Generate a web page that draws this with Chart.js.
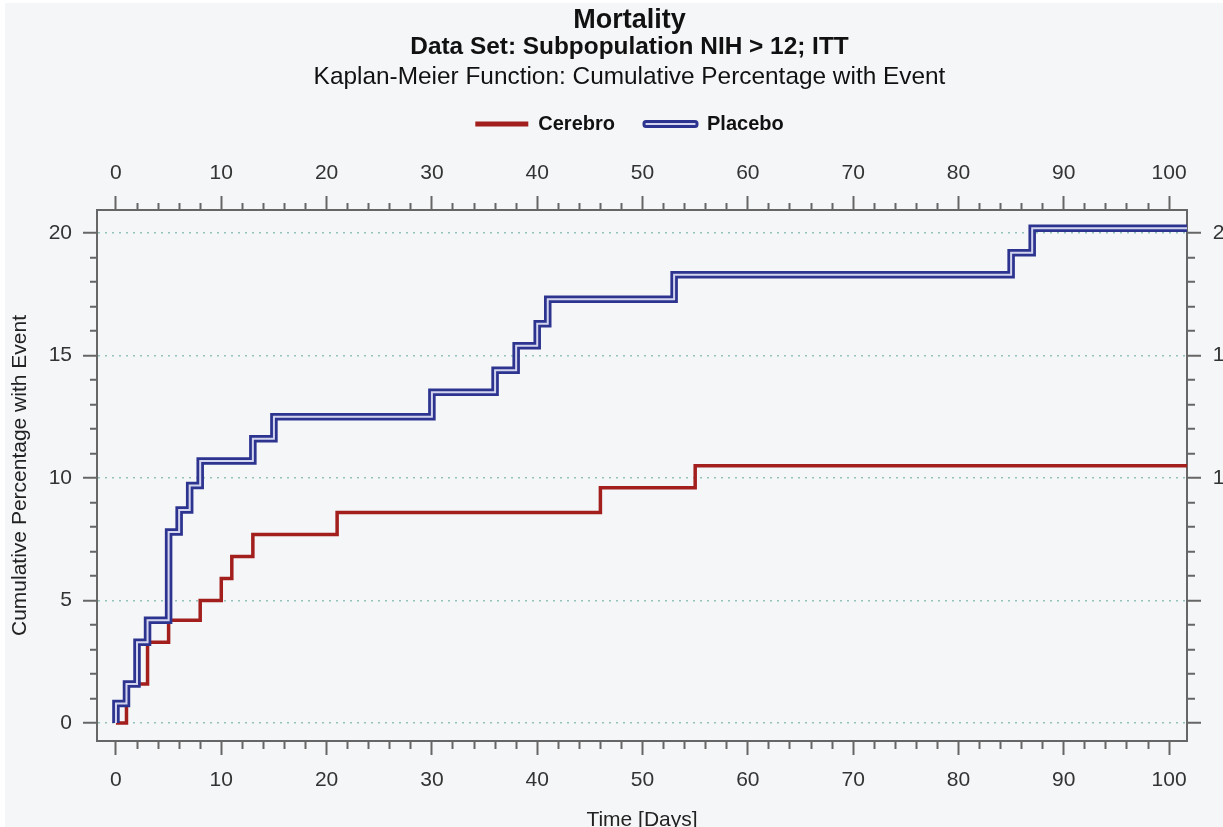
<!DOCTYPE html>
<html>
<head>
<meta charset="utf-8">
<title>Mortality</title>
<script src="https://cdn.jsdelivr.net/npm/chart.js@4/dist/chart.umd.min.js"></script>
<style>
  html, body { margin: 0; padding: 0; width: 1223px; height: 827px; overflow: hidden; background: #ffffff; }
  #wrap { position: absolute; left: 5px; top: 3px; width: 1240px; height: 840px; background: #f5f6f8; }
</style>
</head>
<body>
<div id="wrap"><canvas id="kmChart"></canvas></div>
<script>
// ================= DATA =================

// Kaplan-Meier steps: day of the event and cumulative % after it
const cerebroDays = [0, 1, 3, 5, 8, 10, 11, 13, 21, 46, 55, 102];
const cerebroPct  = [0, 1.6, 3.3, 4.2, 5.0, 5.9, 6.8, 7.7, 8.6, 9.6, 10.5, 10.5];

const placeboDays = [0, 0, 1, 2, 3, 5, 6, 7, 8, 13, 15, 30, 36, 38, 40, 41, 53, 85, 87, 102];
const placeboPct  = [0, 0.8, 1.6, 3.3, 4.2, 7.8, 8.7, 9.7, 10.7, 11.6, 12.5, 13.5, 14.4, 15.4, 16.3, 17.3, 18.3, 19.2, 20.2, 20.2];

const seriesNames = ["Cerebro", "Placebo"];

const titleText    = "Mortality";
const subtitleText = "Data Set: Subpopulation NIH > 12; ITT";
const methodText   = "Kaplan-Meier Function: Cumulative Percentage with Event";
const xTitle = "Time [Days]";
const yTitle = "Cumulative Percentage with Event";

const xRange = [-1.8, 101.7];
const yRange = [-0.73, 20.94];

// ================= STYLE =================

const FONT = "'Liberation Sans', Arial, Helvetica, sans-serif";
const RED = "#a21f1d";
const NAVY = "#2d3490";
const NAVY_LIGHT = "#d3d5ef";
const AXIS = "#666666";
const GRID = "#93c2bb";

const PLOT_TOP = 207;
const PLOT_BOTTOM = 738;
const CANVAS_H = 840;

Chart.defaults.font.family = FONT;

function toPoints(days, pct) {
  return days.map((d, i) => ({ x: d, y: pct[i] }));
}

// major tick every 10 (x) or 5 (y), minor ones are drawn shorter with a dash
function majorLabel(step) {
  return v => (v % step === 0 ? v : "");
}

function tickDash(step, fromOuter) {
  return ctx => {
    if (ctx.tick && ctx.tick.value % step === 0) return [];
    return fromOuter ? [0, 7, 7, 100] : [7, 100];
  };
}

function xAxis(position, pad, fromOuter) {
  return {
    type: "linear",
    position: position,
    min: xRange[0],
    max: xRange[1],
    ticks: {
      stepSize: 2,
      autoSkip: false,
      includeBounds: false,
      maxRotation: 0,
      padding: pad,
      color: "#333",
      font: { size: 21, lineHeight: 1 },
      callback: majorLabel(10)
    },
    grid: {
      drawOnChartArea: false,
      tickLength: 14,
      tickWidth: 2,
      tickColor: AXIS,
      tickBorderDash: tickDash(10, fromOuter)
    },
    border: { color: AXIS, width: 2 }
  };
}

function yAxis(position, fromOuter) {
  return {
    type: "linear",
    position: position,
    min: yRange[0],
    max: yRange[1],
    ticks: {
      stepSize: 1,
      autoSkip: false,
      includeBounds: false,
      padding: 11,
      color: "#333",
      font: { size: 21, lineHeight: 1 },
      callback: majorLabel(5)
    },
    grid: {
      drawOnChartArea: position === "left",
      color: ctx => (ctx.tick && ctx.tick.value % 5 === 0 ? GRID : "transparent"),
      lineWidth: 1.5,
      tickLength: 14,
      tickWidth: 2,
      tickColor: AXIS,
      tickBorderDash: tickDash(5, fromOuter)
    },
    border: { color: AXIS, width: 2, dash: [2, 5] }
  };
}

// ================= CHART =================

const scales = {
  x: xAxis("bottom", 14.5, false),
  x2: xAxis("top", 12.5, true),
  y: yAxis("left", true),
  y2: yAxis("right", false)
};

scales.x.title = {
  display: true,
  text: xTitle,
  color: "#222",
  font: { size: 21, lineHeight: 1.2 },
  padding: { top: 0, bottom: 10.4 }
};
scales.x.afterFit = s => { s.height = CANVAS_H - PLOT_BOTTOM; };

scales.x2.afterFit = s => {
  const used = s.chart.boxes
    .filter(b => b.fullSize && b.position === "top")
    .reduce((sum, b) => sum + b.height, 0);
  s.height = PLOT_TOP - used;
};

scales.y.title = {
  display: true,
  text: yTitle,
  color: "#222",
  font: { size: 21, lineHeight: 1.2 },
  padding: { top: -15, bottom: 0 }
};
scales.y.afterFit = s => { s.width = 74; };

scales.y2.ticks.crossAlign = "far";
scales.y2.afterFit = s => { s.width = 49; };

new Chart(document.getElementById("kmChart"), {
  type: "line",
  data: {
    datasets: [
      {
        label: seriesNames[0],
        data: toPoints(cerebroDays, cerebroPct),
        borderColor: RED,
        borderWidth: 3.5,
        stepped: true,
        pointRadius: 0,
        clip: 0,
        order: 3
      },
      {
        label: seriesNames[1],
        data: toPoints(placeboDays, placeboPct),
        borderColor: NAVY,
        borderWidth: 7.5,
        stepped: true,
        pointRadius: 0,
        clip: 0,
        order: 2
      },
      {
        label: seriesNames[1] + " inner",
        data: toPoints(placeboDays, placeboPct),
        borderColor: NAVY_LIGHT,
        borderWidth: 2,
        stepped: true,
        pointRadius: 0,
        clip: 0,
        order: 1
      }
    ]
  },
  options: {
    responsive: true,
    maintainAspectRatio: false,
    animation: false,
    events: [],
    layout: { padding: { left: 18, right: 9, top: 0, bottom: 0 } },
    scales: scales,
    plugins: {
      tooltip: { enabled: false },
      title: {
        display: true,
        text: titleText,
        color: "#111",
        font: { size: 27, weight: "bold", lineHeight: 0.8 },
        padding: { top: 7.2, bottom: 0 }
      },
      subtitle: {
        display: true,
        text: subtitleText,
        color: "#111",
        font: { size: 24.4, weight: "bold", lineHeight: 0.8 },
        padding: { top: 5.44, bottom: 0 }
      },
      legend: {
        position: "top",
        title: {
          display: true,
          text: methodText,
          color: "#111",
          font: { size: 24.4, lineHeight: 0.8 },
          padding: { top: 8.48, bottom: 0.24 }
        },
        labels: {
          color: "#111",
          font: { size: 20, weight: "bold" },
          boxWidth: 53,
          boxHeight: 5,
          padding: 29,
          generateLabels: chart => [
            { text: seriesNames[0], fillStyle: RED, strokeStyle: RED, lineWidth: 0, datasetIndex: 0 },
            { text: seriesNames[1], fillStyle: NAVY_LIGHT, strokeStyle: NAVY, lineWidth: 3, borderRadius: 2, datasetIndex: 1 }
          ]
        }
      }
    }
  }
});
</script>
</body>
</html>
